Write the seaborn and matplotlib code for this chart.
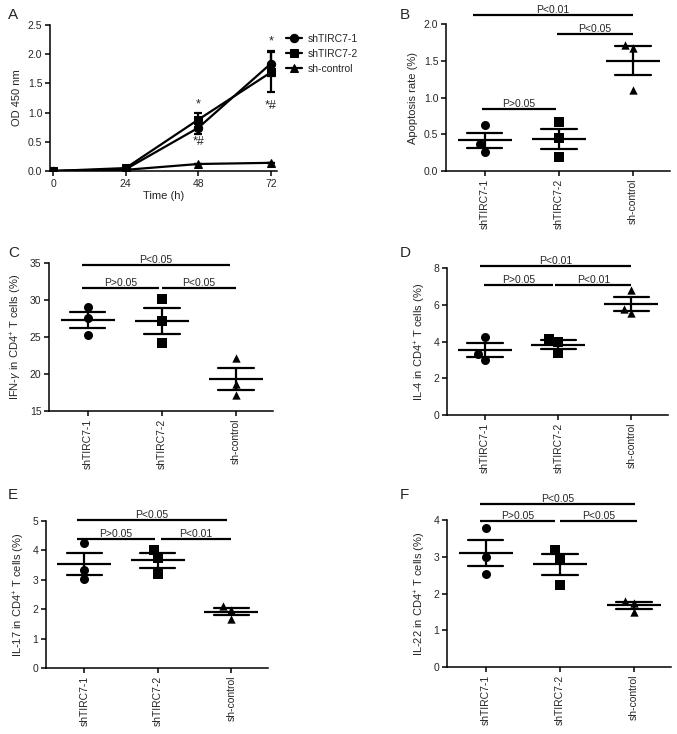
import numpy as np
import pandas as pd
import seaborn as sns
import matplotlib.pyplot as plt

sns.set_theme(style="ticks")
plt.rcParams['font.family'] = ['Liberation Sans', 'DejaVu Sans']
plt.rcParams['mathtext.fontset'] = 'custom'
plt.rcParams['mathtext.rm'] = 'Liberation Sans'
plt.rcParams['mathtext.it'] = 'Liberation Sans:italic'

# Panel A: OD 450 nm growth curve (mean +/- SEM)
time_h = [0, 24, 48, 72]
od_sh1 = [0.0, 0.03, 0.74, 1.84]
od_sh1_err = [0.0, 0.0, 0.10, 0.21]
od_sh2 = [0.0, 0.05, 0.88, 1.69]
od_sh2_err = [0.0, 0.0, 0.12, 0.34]
od_ctrl = [0.0, 0.02, 0.12, 0.14]
od_ctrl_err = [0.0, 0.0, 0.0, 0.0]

groups = ['shTIRC7-1', 'shTIRC7-2', 'sh-control']
group_markers = ['o', 's', '^']

# Panels B-F: individual replicates per group
apoptosis = {'shTIRC7-1': [0.62, 0.37, 0.26],
             'shTIRC7-2': [0.66, 0.45, 0.19],
             'sh-control': [1.72, 1.68, 1.10]}
ifng = {'shTIRC7-1': [29.1, 27.6, 25.3],
        'shTIRC7-2': [30.2, 27.1, 24.2],
        'sh-control': [22.2, 18.7, 17.2]}
il4 = {'shTIRC7-1': [4.26, 3.32, 3.00],
       'shTIRC7-2': [4.14, 3.97, 3.37],
       'sh-control': [6.80, 5.79, 5.54]}
il17 = {'shTIRC7-1': [4.25, 3.33, 3.02],
        'shTIRC7-2': [4.03, 3.75, 3.20],
        'sh-control': [2.10, 1.97, 1.67]}
il22 = {'shTIRC7-1': [3.78, 3.00, 2.53],
        'shTIRC7-2': [3.18, 2.97, 2.24],
        'sh-control': [1.80, 1.75, 1.50]}

FS = 7.5
LW = 1.6

fig = plt.figure(figsize=(6.77, 7.34), dpi=100)


def px_axes(left, top, right, bottom):
    W, H = 677.0, 734.0
    return fig.add_axes([left / W, 1 - bottom / H, (right - left) / W, (bottom - top) / H])


def style_axes(ax):
    sns.despine(ax=ax)
    for s in ['left', 'bottom']:
        ax.spines[s].set_linewidth(1.1)
        ax.spines[s].set_color('black')
    ax.tick_params(axis='both', labelsize=FS, width=1.1, length=3.5, color='black', pad=2)


def dot_panel(ax, values, ylabel, yticks, comps):
    df = pd.DataFrame([(g, v) for g in groups for v in values[g]], columns=['group', 'val'])
    for g, m in zip(groups, group_markers):
        sns.swarmplot(data=df[df.group == g], x='group', y='val', order=groups,
                      marker=m, color='black', size=6.5 if m != '^' else 6, ax=ax, zorder=3)
    # mean line + SEM
    sns.pointplot(data=df, x='group', y='val', order=groups, errorbar='se',
                  capsize=0.48, color='black', marker='_', markersize=39,
                  markeredgewidth=LW, linestyle='none',
                  err_kws={'linewidth': LW}, ax=ax)
    ax.set_xlim(-0.52, 2.5)
    ax.set_ylim(yticks[0], yticks[-1])
    ax.set_yticks(yticks)
    ax.set_xlabel('')
    ax.set_ylabel(ylabel, fontsize=8)
    ax.set_xticks(range(3))
    ax.set_xticklabels(groups, rotation=90)
    style_axes(ax)
    for x0, x1, y, txt in comps:
        ax.plot([x0, x1], [y, y], color='black', lw=LW, clip_on=False, solid_capstyle='butt')
        ax.text((x0 + x1) / 2, y, txt, ha='center', va='bottom', fontsize=FS)


# ---- A ----
axA = px_axes(50, 25, 277, 171)
dfA = pd.DataFrame({
    'time': time_h * 3,
    'od': od_sh1 + od_sh2 + od_ctrl,
    'group': [groups[0]] * 4 + [groups[1]] * 4 + [groups[2]] * 4,
})
sns.lineplot(data=dfA, x='time', y='od', style='group', style_order=groups,
             markers=group_markers, dashes=False, color='black', linewidth=1.6,
             markersize=6, markeredgecolor='black', ax=axA)
for y, e in [(od_sh1, od_sh1_err), (od_sh2, od_sh2_err), (od_ctrl, od_ctrl_err)]:
    axA.errorbar(time_h, y, yerr=e, fmt='none', ecolor='black', elinewidth=LW, capsize=3, capthick=LW)
axA.set_xlim(-1, 74)
axA.set_ylim(0, 2.5)
axA.set_xticks(time_h)
axA.set_yticks(np.arange(0, 2.51, 0.5))
axA.yaxis.set_major_formatter(plt.FormatStrFormatter('%.1f'))
axA.set_xlabel('Time (h)', fontsize=8, labelpad=2)
axA.set_ylabel('OD 450 nm', fontsize=8)
style_axes(axA)
axA.legend(loc='upper left', bbox_to_anchor=(1.02, 0.97), frameon=False, fontsize=FS,
           handlelength=1.6, handletextpad=0.5, labelspacing=0.5, borderaxespad=0)
# significance marks
for x, y, s in [(48, 1.08, '*'), (48, 0.44, '*#'), (72, 2.16, '*'), (72, 1.06, '*#')]:
    axA.text(x, y, s, ha='center', va='baseline', fontsize=9)

# ---- B ----
axB = px_axes(446, 24, 670, 171)
dot_panel(axB, apoptosis, 'Apoptosis rate (%)', [0.0, 0.5, 1.0, 1.5, 2.0],
          [(-0.16, 2.0, 2.12, 'P<0.01'), (0.97, 2.0, 1.86, 'P<0.05'),
           (-0.04, 0.96, 0.85, 'P>0.05')])
axB.yaxis.set_major_formatter(plt.FormatStrFormatter('%.1f'))

# ---- C ----
axC = px_axes(49, 263, 273, 411)
dot_panel(axC, ifng, r'IFN-$\gamma$ in CD4$^{+}$ T cells (%)', [15, 20, 25, 30, 35],
          [(-0.08, 1.92, 34.7, 'P<0.05'), (-0.08, 0.96, 31.6, 'P>0.05'),
           (1.0, 2.0, 31.6, 'P<0.05')])

# ---- D ----
axD = px_axes(447, 268, 668, 415)
dot_panel(axD, il4, r'IL-4 in CD4$^{+}$ T cells (%)', [0, 2, 4, 6, 8],
          [(-0.07, 2.0, 8.1, 'P<0.01'), (-0.01, 0.93, 7.1, 'P>0.05'),
           (0.96, 2.0, 7.1, 'P<0.01')])

# ---- E ----
axE = px_axes(46, 521, 268, 668)
dot_panel(axE, il17, r'IL-17 in CD4$^{+}$ T cells (%)', [0, 1, 2, 3, 4, 5],
          [(-0.1, 1.94, 5.05, 'P<0.05'), (-0.1, 0.96, 4.4, 'P>0.05'),
           (1.04, 1.99, 4.4, 'P<0.01')])

# ---- F ----
axF = px_axes(447, 520, 671, 667)
dot_panel(axF, il22, r'IL-22 in CD4$^{+}$ T cells (%)', [0, 1, 2, 3, 4],
          [(-0.08, 2.02, 4.44, 'P<0.05'), (-0.07, 0.94, 3.96, 'P>0.05'),
           (1.0, 2.04, 3.96, 'P<0.05')])

# panel letters
for letter, (x, y) in zip('ABCDEF', [(8, 15), (400, 15), (8, 253), (400, 253), (8, 495), (400, 495)]):
    fig.text(x / 677, 1 - y / 734, letter, fontsize=11, ha='left', va='center')

fig.savefig('out.png', dpi=100)
